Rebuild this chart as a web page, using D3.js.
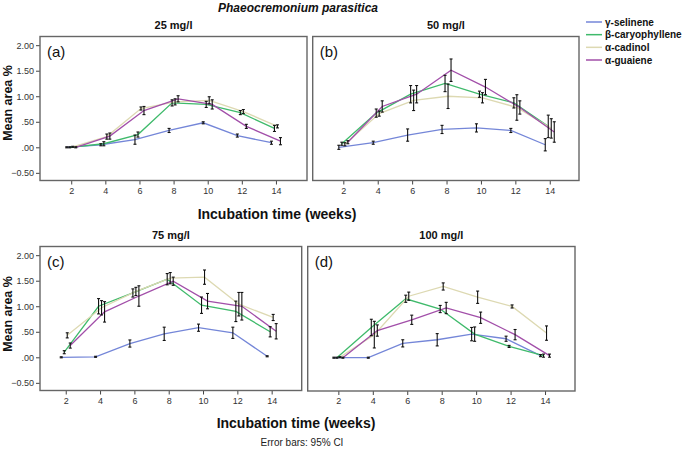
<!DOCTYPE html>
<html>
<head>
<meta charset="utf-8">
<script src="https://cdn.jsdelivr.net/npm/d3@7"></script>
<style>
  html, body { margin: 0; padding: 0; background: #fff; }
  svg { display: block; font-family: "Liberation Sans", Arial, sans-serif; }
</style>
</head>
<body>
<svg id="chart" width="685" height="455"></svg>
<script>
// ---------- DATA ----------
const weeks = [2, 4, 6, 8, 10, 12, 14];
const seriesNames = ["γ-selinene", "β-caryophyllene", "α-cadinol", "α-guaiene"];
const seriesColors = ["#7486d8", "#3fba6b", "#ddd9b2", "#a24fa9"];
const yTicks = [-0.5, 0, 0.5, 1.0, 1.5, 2.0];
const panelTitles = ["25 mg/l", "50 mg/l", "75 mg/l", "100 mg/l"];
const panelLetters = ["(a)", "(b)", "(c)", "(d)"];

// Panel (a) 25 mg/l : means and 95% CI half-widths
const selA = [0.00, 0.05, 0.15, 0.33, 0.48, 0.23, 0.09];
const selAci = [0.01, 0.02, 0.09, 0.04, 0.02, 0.03, 0.03];
const carA = [0.00, 0.07, 0.25, 0.87, 0.84, 0.68, 0.37];
const carAci = [0.01, 0.04, 0.05, 0.06, 0.06, 0.04, 0.06];
const cadA = [0.01, 0.21, 0.76, 0.89, 0.92, 0.70, 0.41];
const cadAci = [0.01, 0.05, 0.03, 0.06, 0.07, 0.04, 0.03];
const guaA = [0.00, 0.22, 0.72, 0.95, 0.84, 0.41, 0.12];
const guaAci = [0.01, 0.06, 0.08, 0.06, 0.09, 0.04, 0.07];

// Panel (b) 50 mg/l
const selB = [0.00, 0.09, 0.24, 0.35, 0.38, 0.33, 0.05];
const selBci = [0.04, 0.03, 0.12, 0.08, 0.08, 0.04, 0.12];
const carB = [0.07, 0.67, 1.04, 1.25, 1.04, 0.87, 0.41];
const carBci = [0.03, 0.08, 0.17, 0.16, 0.06, 0.10, 0.22];
const cadB = [0.06, 0.66, 0.92, 1.00, 0.97, 0.78, 0.37];
const cadBci = [0.03, 0.05, 0.20, 0.24, 0.10, 0.25, 0.19];
const guaB = [0.10, 0.80, 1.04, 1.51, 1.18, 0.78, 0.30];
const guaBci = [0.03, 0.11, 0.17, 0.22, 0.15, 0.13, 0.20];

// Panel (c) 75 mg/l
const selC = [0.00, 0.01, 0.27, 0.46, 0.58, 0.48, 0.02];
const selCci = [0.01, 0.01, 0.07, 0.13, 0.07, 0.11, 0.01];
const carC = [0.10, 1.00, 1.26, 1.53, 1.02, 0.90, 0.50];
const carCci = [0.03, 0.15, 0.08, 0.11, 0.16, 0.20, 0.10];
const cadC = [0.43, 0.97, 1.29, 1.55, 1.57, 1.04, 0.78];
const cadCci = [0.05, 0.14, 0.08, 0.11, 0.14, 0.23, 0.06];
const guaC = [0.23, 0.89, 1.20, 1.49, 1.10, 1.00, 0.51];
const guaCci = [0.05, 0.20, 0.20, 0.08, 0.15, 0.27, 0.15];

// Panel (d) 100 mg/l
const selD = [0.00, 0.00, 0.28, 0.35, 0.46, 0.37, 0.04];
const selDci = [0.01, 0.01, 0.07, 0.12, 0.13, 0.05, 0.02];
const carD = [0.00, 0.59, 1.15, 0.95, 0.46, 0.22, 0.04];
const carDci = [0.01, 0.16, 0.07, 0.07, 0.14, 0.02, 0.03];
const cadD = [0.01, 0.45, 1.20, 1.39, 1.18, 1.00, 0.48];
const cadDci = [0.01, 0.26, 0.08, 0.07, 0.12, 0.03, 0.14];
const guaD = [0.00, 0.53, 0.74, 0.97, 0.78, 0.45, 0.04];
const guaDci = [0.01, 0.11, 0.09, 0.11, 0.11, 0.10, 0.03];

// ---------- LAYOUT ----------
const panels = [
  { means: [selA, carA, cadA, guaA], ci: [selAci, carAci, cadAci, guaAci],
    box: { x0: 40, x1: 307, y0: 36.5, y1: 180.5 }, xDom: [0.17, 15.82], yAxis: true },
  { means: [selB, carB, cadB, guaB], ci: [selBci, carBci, cadBci, guaBci],
    box: { x0: 312.7, x1: 579, y0: 36.5, y1: 180.5 }, xDom: [0.22, 15.7], yAxis: false },
  { means: [selC, carC, cadC, guaC], ci: [selCci, carCci, cadCci, guaCci],
    box: { x0: 40, x1: 301.7, y0: 246.5, y1: 390.5 }, xDom: [0.5, 15.75], yAxis: true },
  { means: [selD, carD, cadD, guaD], ci: [selDci, carDci, cadDci, guaDci],
    box: { x0: 307.7, x1: 575, y0: 246.5, y1: 391 }, xDom: [0.22, 15.74], yAxis: false }
];
const yDom = [-0.65, 2.17];
const dodge = [-4.5, -1.5, 1.5, 4.5];

const svg = d3.select("#chart");

const fmtY = v => {
  let s = d3.format(".2f")(v);
  return s.replace(/^0\./, ".").replace(/^-0\./, "-.");
};

panels.forEach((p, pi) => {
  const b = p.box;
  const x = d3.scaleLinear().domain(p.xDom).range([b.x0, b.x1]);
  const y = d3.scaleLinear().domain(yDom).range([b.y1, b.y0]);
  const g = svg.append("g");

  // panel title
  g.append("text")
    .attr("x", (b.x0 + b.x1) / 2).attr("y", b.y0 - 8)
    .attr("text-anchor", "middle")
    .attr("font-size", 11).attr("font-weight", "bold").attr("fill", "#111")
    .text(panelTitles[pi]);

  // axes
  const xAxis = d3.axisBottom(x).tickValues(weeks).tickSize(4).tickSizeOuter(0).tickPadding(3);
  const xg = g.append("g").attr("transform", `translate(0,${b.y1})`).call(xAxis);
  xg.select(".domain").remove();
  xg.selectAll("text").attr("font-size", 9).attr("fill", "#333").attr("font-family", "Liberation Sans, Arial, sans-serif");
  xg.selectAll("line").attr("stroke", "#444");

  if (p.yAxis) {
    const yAxis = d3.axisLeft(y).tickValues(yTicks).tickFormat(fmtY).tickSize(4).tickSizeOuter(0).tickPadding(2);
    const yg = g.append("g").attr("transform", `translate(${b.x0},0)`).call(yAxis);
    yg.select(".domain").remove();
    yg.selectAll("text").attr("font-size", 9).attr("fill", "#333").attr("font-family", "Liberation Sans, Arial, sans-serif");
    yg.selectAll("line").attr("stroke", "#444");
  }

  // frame
  g.append("rect")
    .attr("x", b.x0).attr("y", b.y0)
    .attr("width", b.x1 - b.x0).attr("height", b.y1 - b.y0)
    .attr("fill", "none").attr("stroke", "#666").attr("stroke-width", 1.4);

  // panel letter
  g.append("text")
    .attr("x", b.x0 + 7).attr("y", b.y0 + 20)
    .attr("font-size", 15).attr("fill", "#111")
    .text(panelLetters[pi]);

  // series lines
  const line = d3.line();
  p.means.forEach((m, si) => {
    const pts = weeks.map((w, i) => [x(w) + dodge[si], y(m[i])]);
    g.append("path")
      .attr("d", line(pts))
      .attr("fill", "none")
      .attr("stroke", seriesColors[si])
      .attr("stroke-width", 1.3);
  });

  // error bars
  p.means.forEach((m, si) => {
    const ci = p.ci[si];
    weeks.forEach((w, i) => {
      const cx = x(w) + dodge[si];
      const lo = y(m[i] - ci[i]);
      const hi = y(m[i] + ci[i]);
      const eb = g.append("g").attr("stroke", "#111").attr("stroke-width", 1.1);
      eb.append("line").attr("x1", cx).attr("x2", cx).attr("y1", lo).attr("y2", hi);
      eb.append("line").attr("x1", cx - 1.5).attr("x2", cx + 1.5).attr("y1", lo).attr("y2", lo);
      eb.append("line").attr("x1", cx - 1.5).attr("x2", cx + 1.5).attr("y1", hi).attr("y2", hi);
    });
  });
});

// Main title
svg.append("text")
  .attr("x", 298).attr("y", 12)
  .attr("text-anchor", "middle")
  .attr("font-size", 12).attr("font-style", "italic").attr("font-weight", "bold").attr("fill", "#111")
  .text("Phaeocremonium parasitica");

// Y-axis labels
[{ cy: 103 }, { cy: 314 }].forEach(o => {
  svg.append("text")
    .attr("transform", `translate(12,${o.cy}) rotate(-90)`)
    .attr("text-anchor", "middle")
    .attr("font-size", 12.5).attr("font-weight", "bold").attr("fill", "#111")
    .text("Mean area %");
});

// X-axis labels
[{ cx: 277, cy: 219 }, { cx: 296, cy: 428 }].forEach(o => {
  svg.append("text")
    .attr("x", o.cx).attr("y", o.cy)
    .attr("text-anchor", "middle")
    .attr("font-size", 14).attr("font-weight", "bold").attr("fill", "#111")
    .text("Incubation time (weeks)");
});

// Footer
svg.append("text")
  .attr("x", 302).attr("y", 446)
  .attr("text-anchor", "middle")
  .attr("font-size", 10).attr("fill", "#222")
  .text("Error bars: 95% CI");

// Legend
const legY = d3.scalePoint().domain(seriesNames).range([22, 60]);
const leg = svg.append("g");
seriesNames.forEach((n, i) => {
  leg.append("line")
    .attr("x1", 586).attr("x2", 602)
    .attr("y1", legY(n)).attr("y2", legY(n))
    .attr("stroke", seriesColors[i]).attr("stroke-width", 1.5);
  leg.append("text")
    .attr("x", 605).attr("y", legY(n) + 3.5)
    .attr("font-size", 10).attr("font-weight", "bold").attr("fill", "#111")
    .text(n);
});
</script>
</body>
</html>
